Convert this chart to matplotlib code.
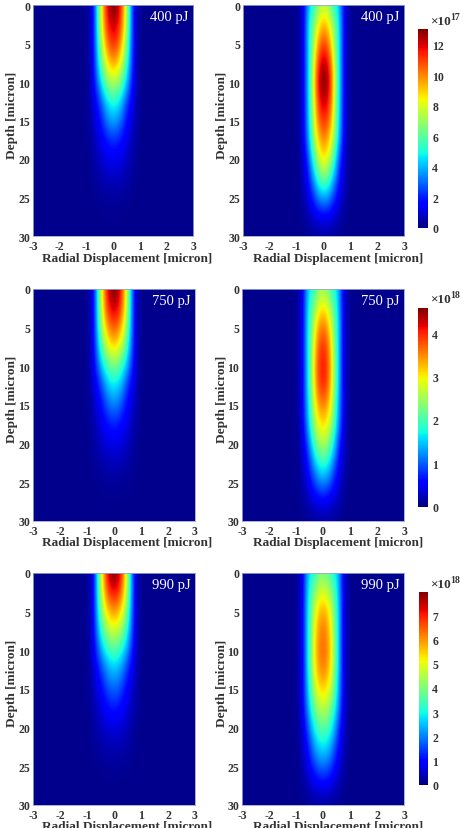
import matplotlib
matplotlib.use('Agg')
import matplotlib.pyplot as plt
import numpy as np

plt.rcParams['font.family'] = ['Liberation Serif', 'DejaVu Serif']

W, H = 474, 829

# density as a fraction of the colorbar top
# rows: depth 0, 2.5, ... 30 micron; columns: radius 0, 0.15, ... 1.2 micron
surface_400 = [
    [1.00, .96, .83, .62, .37, .12, .02, .003, 0],
    [.93, .90, .79, .60, .36, .12, .02, .003, 0],
    [.85, .82, .71, .54, .33, .12, .02, .003, 0],
    [.72, .69, .59, .45, .29, .11, .02, .003, 0],
    [.55, .53, .46, .35, .22, .10, .02, .003, 0],
    [.38, .36, .30, .21, .13, .07, .02, .003, 0],
    [.28, .26, .21, .14, .09, .05, .016, .003, 0],
    [.15, .145, .12, .09, .06, .032, .011, .002, 0],
    [.09, .085, .075, .055, .036, .018, .007, .001, 0],
    [.045, .042, .036, .028, .018, .01, .004, 0, 0],
    [.015, .014, .012, .01, .006, .003, .001, 0, 0],
    [.003, .003, .002, .002, .001, .001, 0, 0, 0],
    [0, 0, 0, 0, 0, 0, 0, 0, 0],
]
surface_750 = [
    [1.00, .96, .83, .62, .37, .12, .02, .003, 0],
    [.92, .89, .78, .60, .36, .12, .02, .003, 0],
    [.80, .77, .68, .53, .33, .12, .02, .003, 0],
    [.66, .63, .55, .43, .28, .11, .02, .003, 0],
    [.47, .45, .39, .31, .20, .10, .02, .003, 0],
    [.34, .32, .27, .19, .12, .065, .02, .003, 0],
    [.24, .225, .18, .125, .08, .045, .015, .003, 0],
    [.14, .13, .11, .085, .055, .03, .011, .002, 0],
    [.08, .076, .066, .05, .032, .017, .007, .001, 0],
    [.04, .037, .032, .025, .016, .009, .004, 0, 0],
    [.012, .011, .01, .008, .005, .003, .001, 0, 0],
    [.002, .002, .002, .001, .001, 0, 0, 0, 0],
    [0, 0, 0, 0, 0, 0, 0, 0, 0],
]
surface_990 = [
    [1.00, .96, .83, .62, .37, .12, .02, .003, 0],
    [.88, .85, .76, .59, .36, .12, .02, .003, 0],
    [.73, .71, .63, .50, .32, .12, .02, .003, 0],
    [.58, .56, .50, .40, .27, .11, .02, .003, 0],
    [.43, .41, .36, .29, .19, .095, .02, .003, 0],
    [.30, .285, .24, .18, .115, .06, .018, .003, 0],
    [.21, .20, .165, .115, .075, .042, .014, .003, 0],
    [.13, .12, .10, .08, .05, .027, .01, .002, 0],
    [.07, .066, .058, .045, .029, .015, .006, .001, 0],
    [.035, .032, .028, .022, .014, .008, .003, 0, 0],
    [.01, .009, .008, .006, .004, .002, .001, 0, 0],
    [.002, .002, .001, .001, .001, 0, 0, 0, 0],
    [0, 0, 0, 0, 0, 0, 0, 0, 0],
]
focus_400 = [
    [.55, .53, .42, .36, .27, .09, .02, .003, 0],
    [.70, .66, .55, .44, .30, .10, .02, .003, 0],
    [.82, .78, .64, .45, .30, .10, .02, .003, 0],
    [.94, .89, .72, .48, .30, .10, .02, .003, 0],
    [1.00, .95, .77, .50, .30, .10, .02, .003, 0],
    [.93, .89, .73, .48, .29, .10, .02, .003, 0],
    [.85, .81, .68, .46, .28, .10, .02, .003, 0],
    [.75, .71, .60, .42, .25, .09, .02, .003, 0],
    [.65, .60, .48, .33, .16, .07, .015, .003, 0],
    [.47, .44, .34, .22, .12, .05, .012, .002, 0],
    [.28, .26, .20, .13, .07, .03, .008, .001, 0],
    [.09, .085, .07, .05, .028, .012, .003, 0, 0],
    [.012, .012, .01, .008, .005, .002, 0, 0, 0],
]
focus_750 = [
    [.52, .50, .41, .36, .27, .09, .02, .003, 0],
    [.65, .62, .52, .42, .29, .10, .02, .003, 0],
    [.78, .74, .61, .44, .30, .10, .02, .003, 0],
    [.85, .81, .67, .46, .30, .10, .02, .003, 0],
    [.88, .84, .70, .47, .30, .10, .02, .003, 0],
    [.86, .82, .68, .46, .29, .10, .02, .003, 0],
    [.76, .73, .62, .43, .27, .10, .02, .003, 0],
    [.66, .63, .54, .39, .24, .09, .02, .003, 0],
    [.55, .52, .43, .30, .16, .07, .015, .003, 0],
    [.40, .37, .30, .20, .11, .05, .012, .002, 0],
    [.25, .23, .18, .12, .065, .03, .008, .001, 0],
    [.09, .085, .07, .05, .028, .012, .003, 0, 0],
    [.012, .012, .01, .008, .005, .002, 0, 0, 0],
]
focus_990 = [
    [.48, .46, .40, .35, .27, .09, .02, .003, 0],
    [.60, .58, .50, .41, .29, .10, .02, .003, 0],
    [.72, .69, .60, .44, .30, .10, .02, .003, 0],
    [.77, .74, .64, .46, .30, .10, .02, .003, 0],
    [.79, .76, .66, .47, .30, .10, .02, .003, 0],
    [.76, .73, .64, .46, .29, .10, .02, .003, 0],
    [.67, .65, .57, .42, .27, .10, .02, .003, 0],
    [.56, .54, .47, .36, .23, .09, .02, .003, 0],
    [.45, .43, .37, .27, .16, .07, .015, .003, 0],
    [.34, .32, .27, .19, .11, .05, .012, .002, 0],
    [.22, .21, .17, .12, .065, .03, .008, .001, 0],
    [.09, .085, .07, .05, .028, .012, .003, 0, 0],
    [.012, .012, .01, .008, .005, .002, 0, 0, 0],
]

# top of each colorbar, in units of its multiplier
scale_tops = [13.05, 4.58, 7.95]
exponents = ['17', '18', '18']
energies = ['400 pJ', '750 pJ', '990 pJ']
cbar_ticks = [[0, 2, 4, 6, 8, 10, 12], [0, 1, 2, 3, 4], [0, 1, 2, 3, 4, 5, 6, 7]]
x_ticks = [-3, -2, -1, 0, 1, 2, 3]
y_ticks = [0, 5, 10, 15, 20, 25, 30]
background = 0.012

panels = [[surface_400, focus_400], [surface_750, focus_750], [surface_990, focus_990]]

# pixel layout of each row
row_y = [(6, 237), (290, 522), (574, 806)]
col_x = [[(33, 193.5), (243, 404)], [(33, 195), (242, 404)], [(33, 195), (242, 404)]]
cbar_box = [(418, 428, 30, 228.5), (418, 428, 309, 507.5), (419, 428, 593, 786)]
xlabel_y = [259, 543, 827]
ylabel_y = [115, 399, 683]
mult_y = [22, 300, 585]


def axes_px(x0, x1, y0, y1):
    return fig.add_axes([x0 / W, 1 - y1 / H, (x1 - x0) / W, (y1 - y0) / H])


def full_grid(half):
    # mirror about r=0 and pad with empty columns out to +-3 micron
    half = np.array(half)
    edge = np.zeros((half.shape[0], 12))
    return np.hstack([edge, half[:, :0:-1], half, edge])


fig = plt.figure(figsize=(W / 100, H / 100), dpi=100)

for i in range(3):
    top = scale_tops[i]
    for j in range(2):
        x0, x1 = col_x[i][j]
        y0, y1 = row_y[i]
        ax = axes_px(x0, x1, y0, y1)
        z = (full_grid(panels[i][j]) + background) * top
        im = ax.imshow(z, cmap='jet', vmin=0, vmax=top, aspect='auto', interpolation='bicubic',
                       extent=(-3.075, 3.075, 31.25, -1.25))
        ax.set_xlim(-3, 3)
        ax.set_ylim(30, 0)
        ax.set_xticks(x_ticks)
        ax.set_xticklabels([str(t) for t in x_ticks])
        ax.set_yticks(y_ticks)
        ax.tick_params(axis='x', length=0, pad=3, labelsize=8.5, labelcolor='#333333')
        ax.tick_params(axis='y', length=0, pad=2, labelsize=8.5, labelcolor='#333333')
        for lab in ax.get_xticklabels() + ax.get_yticklabels():
            lab.set_fontweight('bold')
        for s in ax.spines.values():
            s.set_color('#9aa4d4')
            s.set_linewidth(0.6)
        ax.text(0.97, 0.95, energies[i], transform=ax.transAxes, color='white', fontsize=10.5,
                ha='right', va='center')
        xc = 127 if j == 0 else 338
        fig.text(xc / W, 1 - xlabel_y[i] / H, 'Radial Displacement [micron]', fontsize=9.5,
                 fontweight='bold', color='#333333', ha='center', va='center')
        yl = 12 if j == 0 else 222
        fig.text(yl / W, 1 - ylabel_y[i] / H, 'Depth [micron]', fontsize=9.5, fontweight='bold',
                 color='#333333', rotation=90, ha='center', va='center')

    cx0, cx1, cy0, cy1 = cbar_box[i]
    cax = axes_px(cx0, cx1, cy0, cy1)
    cb = fig.colorbar(im, cax=cax, ticks=cbar_ticks[i])
    cb.outline.set_visible(False)
    cax.tick_params(length=0, pad=3, labelsize=8.5, labelcolor='#333333')
    for lab in cax.get_yticklabels():
        lab.set_fontweight('bold')
    fig.text(430 / W, 1 - mult_y[i] / H, '\u00d710', fontsize=9.5, fontweight='bold',
             color='#333333', ha='left', va='center')
    fig.text(450 / W, 1 - (mult_y[i] - 4) / H, exponents[i], fontsize=7, fontweight='bold',
             color='#333333', ha='left', va='center')

fig.savefig('out.png', dpi=100)
